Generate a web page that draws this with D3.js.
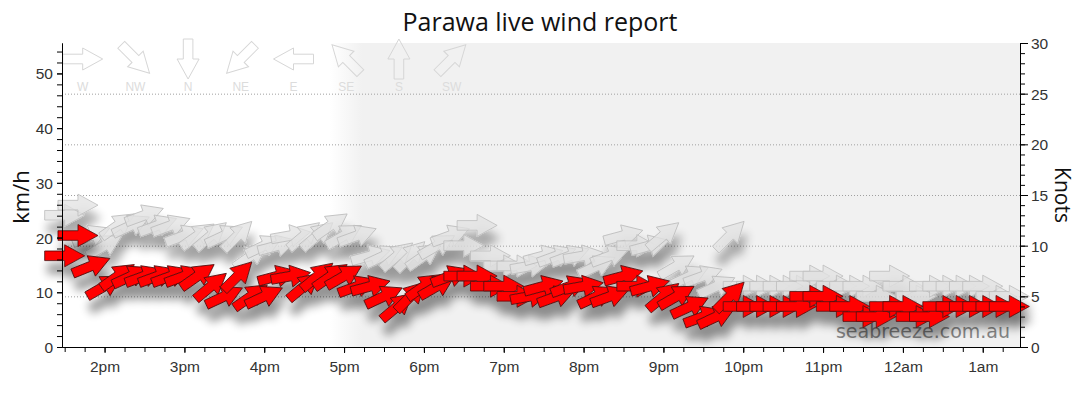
<!DOCTYPE html>
<html>
<head>
<meta charset="utf-8">
<script src="https://cdn.jsdelivr.net/npm/d3@7"></script>
<style>
body { margin: 0; background: #fff; }
svg { display: block; }
</style>
</head>
<body>
<script>
// observations every 10 minutes, speeds in knots, direction the wind comes from (deg)
var times = ["13:30","13:40","13:50","14:00","14:10","14:20","14:30","14:40","14:50","15:00",
  "15:10","15:20","15:30","15:40","15:50","16:00","16:10","16:20","16:30","16:40",
  "16:50","17:00","17:10","17:20","17:30","17:40","17:50","18:00","18:10","18:20",
  "18:30","18:40","18:50","19:00","19:10","19:20","19:30","19:40","19:50","20:00",
  "20:10","20:20","20:30","20:40","20:50","21:00","21:10","21:20","21:30","21:40",
  "21:50","22:00","22:10","22:20","22:30","22:40","22:50","23:00","23:10","23:20",
  "23:30","23:40","23:50","00:00","00:10","00:20","00:30","00:40","00:50","01:00",
  "01:10","01:20"];
var speedKnots = [9,11,8,6,7,7,7,7,7,7, 7,6,5,7,5,5,7,7,6,7, 7,7,6,6,5,4,5,6,6,7,
  7,7,6,6,5,5,6,5,6,6, 5,5,7,6,6,5,5,4,3,3, 5,4,4,4,4,4,5,5,4,4, 3,3,4,4,3,3,4,4,4,4, 4,4];
var gustKnots = [13,14,11,10,12,12,13,12,12,11, 11,11,11,11,9,10,10,11,11,11, 12,11,11,9,9,9,9,9,10,11,
  10,12,9,8,8,8,9,9,9,9, 8,9,11,10,10,11,8,7,7,6, 11,6,6,6,6,6,7,7,6,6, 6,5,7,6,5,6,6,6,6,6, 5,5];
var directions = [270,270,248,240,235,245,250,250,250,250, 235,230,245,225,235,245,255,260,230,230,
  235,240,250,255,245,230,225,235,240,250, 270,270,270,270,270,260,255,250,250,260,
  245,250,255,270,255,230,240,245,250,245, 225,270,270,270,270,270,270,270,270,270,
  270,270,270,270,270,270,270,270,270,270, 270,270];

var compassLabels = ["W","NW","N","NE","E","SE","S","SW"];
var compassDirs = [270,315,0,45,90,135,180,225];
var kmhTicks = [0,10,20,30,40,50];
var knotTicks = [0,5,10,15,20,25,30];
var gridKnots = [5,10,15,20,25];
var nightStart = "17:03";

var svg = d3.select("body")
    .append("svg")
    .attr("width", 1080)
    .attr("height", 414);

var plotLeft = 62, plotRight = 1020, plotTop = 43, plotBottom = 347;

function parseT(s) {
    var p = s.split(":");
    var h = +p[0], m = +p[1];
    return new Date(2024, 0, h < 12 ? 2 : 1, h, m);
}

var x = d3.scaleTime()
    .domain([parseT("13:28"), parseT("01:28")])
    .range([plotLeft, plotRight]);
var yKn = d3.scaleLinear().domain([0, 30]).range([plotBottom, plotTop]);
var yKmh = d3.scaleLinear().domain([0, 30 * 1.852]).range([plotBottom, plotTop]);

var defs = svg.append("defs");

// night shading
var nx = x(parseT(nightStart));
var grad = defs.append("linearGradient")
    .attr("id", "night")
    .attr("gradientUnits", "userSpaceOnUse")
    .attr("x1", nx - 18).attr("x2", nx + 14)
    .attr("y1", 0).attr("y2", 0);
grad.append("stop").attr("offset", 0).attr("stop-color", "#fff");
grad.append("stop").attr("offset", 1).attr("stop-color", "#f1f1f1");

svg.append("rect")
    .attr("x", nx - 18)
    .attr("y", plotTop)
    .attr("width", plotRight - nx + 18)
    .attr("height", plotBottom - plotTop)
    .attr("fill", "url(#night)");

// soft shadow under arrows
var f = defs.append("filter").attr("id", "shadow")
    .attr("x", "-10%").attr("y", "-20%").attr("width", "120%").attr("height", "170%");
f.append("feGaussianBlur").attr("in", "SourceAlpha").attr("stdDeviation", 5).attr("result", "b");
f.append("feOffset").attr("in", "b").attr("dx", 3).attr("dy", 13).attr("result", "o");
f.append("feComponentTransfer").attr("in", "o").attr("result", "s")
    .append("feFuncA").attr("type", "linear").attr("slope", 0.42);
var mg = f.append("feMerge");
mg.append("feMergeNode").attr("in", "s");
mg.append("feMergeNode").attr("in", "SourceGraphic");

// grid
svg.append("g").selectAll("line")
    .data(gridKnots)
    .enter().append("line")
    .attr("x1", plotLeft).attr("x2", plotRight)
    .attr("y1", function(d) { return yKn(d) + 0.5; })
    .attr("y2", function(d) { return yKn(d) + 0.5; })
    .attr("stroke", "#a0a0a0")
    .attr("stroke-dasharray", "1,2");

// watermark sits under the arrows
svg.append("text")
    .attr("x", 1010).attr("y", 338)
    .attr("text-anchor", "end")
    .style("font-family", "DejaVu Sans, Verdana, sans-serif")
    .style("font-size", "19px")
    .attr("fill", "#858585")
    .text("seabreeze.com.au");

// block arrow pointing right, centred on the point
var arrowPath = "M-20,-4.8L0,-4.8L0,-11L20,0L0,11L0,4.8L-20,4.8Z";

function arrowTransform(px, py, dir) {
    return "translate(" + px + "," + py + ") rotate(" + (dir + 90) + ")";
}

var obs = times.map(function(t, i) {
    return {t: parseT(t), speed: speedKnots[i], gust: gustKnots[i], dir: directions[i]};
});

svg.append("g")
    .attr("filter", "url(#shadow)")
    .selectAll("path")
    .data(obs)
    .enter().append("path")
    .attr("d", arrowPath)
    .attr("transform", function(d) { return arrowTransform(x(d.t), yKn(d.gust), d.dir); })
    .attr("fill", "rgba(226,226,226,0.75)")
    .attr("stroke", "#bcbcbc")
    .attr("stroke-width", 0.8);

svg.append("g")
    .attr("filter", "url(#shadow)")
    .selectAll("path")
    .data(obs)
    .enter().append("path")
    .attr("d", arrowPath)
    .attr("transform", function(d) { return arrowTransform(x(d.t), yKn(d.speed), d.dir); })
    .attr("fill", "#ff0000")
    .attr("stroke", "#4a1010")
    .attr("stroke-width", 0.8);

// compass legend
var legend = svg.append("g");
compassLabels.forEach(function(lab, i) {
    var cx = 82.7 + i * 52.7;
    legend.append("path")
        .attr("d", arrowPath)
        .attr("transform", arrowTransform(cx, 59, compassDirs[i]))
        .attr("fill", "none")
        .attr("stroke", "#d6d6d6");
    legend.append("text")
        .attr("x", cx).attr("y", 91)
        .attr("text-anchor", "middle")
        .style("font-family", "Liberation Sans, Arial, sans-serif")
        .style("font-size", "12px")
        .attr("fill", "#dcdcdc")
        .text(lab);
});

// axes
function styleAxis(g) {
    g.selectAll("text")
        .style("font-family", "Liberation Sans, Arial, sans-serif")
        .style("font-size", "15.5px")
        .attr("fill", "#333");
    g.selectAll("line, path").attr("stroke", "#000");
}

svg.append("g")
    .attr("transform", "translate(" + plotLeft + ",0)")
    .call(d3.axisLeft(yKmh).tickValues(d3.range(0, 56, 2)).tickSize(5).tickSizeOuter(0).tickFormat(""))
    .call(styleAxis);
svg.append("g")
    .attr("transform", "translate(" + plotLeft + ",0)")
    .call(d3.axisLeft(yKmh).tickValues(kmhTicks).tickSize(5).tickSizeOuter(0))
    .call(styleAxis)
    .selectAll("text").attr("x", -9).attr("dy", "0.35em");

svg.append("g")
    .attr("transform", "translate(" + plotRight + ",0)")
    .call(d3.axisRight(yKn).tickValues(d3.range(0, 31, 1)).tickSize(5).tickSizeOuter(0).tickFormat(""))
    .call(styleAxis);
svg.append("g")
    .attr("transform", "translate(" + plotRight + ",0)")
    .call(d3.axisRight(yKn).tickValues(knotTicks).tickSize(8).tickSizeOuter(0))
    .call(styleAxis)
    .selectAll("text").attr("x", 11).attr("dy", "0.35em");

svg.append("g")
    .attr("transform", "translate(0," + plotBottom + ")")
    .call(d3.axisBottom(x).ticks(d3.timeMinute.every(15)).tickSize(5).tickSizeOuter(0).tickFormat(""))
    .call(styleAxis);
svg.append("g")
    .attr("transform", "translate(0," + plotBottom + ")")
    .call(d3.axisBottom(x).ticks(d3.timeHour.every(1)).tickSize(6).tickSizeOuter(0)
        .tickFormat(function(d) { return d3.timeFormat("%-I%p")(d).toLowerCase(); }))
    .call(styleAxis)
    .selectAll("text").attr("y", 14);

// titles
svg.append("text")
    .attr("x", 540).attr("y", 31)
    .attr("text-anchor", "middle")
    .style("font-family", "Open Sans, sans-serif")
    .style("font-size", "25px")
    .attr("fill", "#111")
    .text("Parawa live wind report");

svg.append("text")
    .attr("transform", "translate(29,197) rotate(-90)")
    .attr("text-anchor", "middle")
    .style("font-family", "Open Sans, sans-serif")
    .style("font-size", "22px")
    .attr("fill", "#111")
    .text("km/h");

svg.append("text")
    .attr("transform", "translate(1055,195) rotate(90)")
    .attr("text-anchor", "middle")
    .style("font-family", "Open Sans, sans-serif")
    .style("font-size", "21px")
    .attr("fill", "#111")
    .text("Knots");
</script>
</body>
</html>
